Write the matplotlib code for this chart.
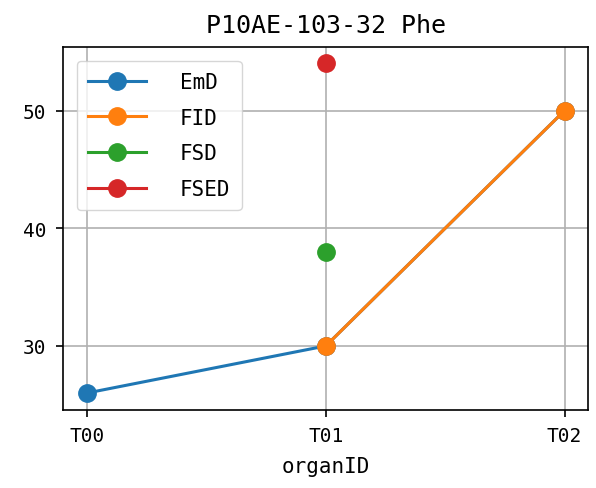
import matplotlib
matplotlib.use("Agg")
import matplotlib.pyplot as plt

categories = ["T00", "T01", "T02"]
emd_x = ["T00", "T01", "T02"]
emd_y = [26, 30, 50]
fid_x = ["T01", "T02"]
fid_y = [30, 50]
fsd_x = ["T01"]
fsd_y = [38]
fsed_x = ["T01"]
fsed_y = [54]

plt.rcParams['font.family'] = ['DejaVu Sans Mono', 'Noto Sans CJK SC']

fig, ax = plt.subplots(figsize=(5.96, 4.89), dpi=100)
idx = {c: i for i, c in enumerate(categories)}
series = [("EmD", emd_x, emd_y, "#1f77b4"),
          ("FID", fid_x, fid_y, "#ff7f0e"),
          ("FSD", fsd_x, fsd_y, "#2ca02c"),
          ("FSED", fsed_x, fsed_y, "#d62728")]
for name, xs, ys, col in series:
    ax.plot([idx[x] for x in xs], ys, marker='o', markersize=12.5, linewidth=2.2,
            color=col, label=name)
ax.set_xticks(range(len(categories)))
ax.set_xticklabels(categories)
ax.set_yticks([30, 40, 50])
ax.tick_params(labelsize=14, length=5, width=1.2, pad=7)
ax.grid(True, linewidth=1.2)
ax.set_xlabel("organID", fontsize=15, labelpad=8)
ax.set_title("P10AE-103-32 Phe", fontsize=18, pad=11)
ax.legend(loc='upper left', fontsize=15, handletextpad=1.6, handlelength=2.8,
          borderaxespad=0.65, labelspacing=0.75, borderpad=0.55)
for s in ax.spines.values():
    s.set_linewidth(1.2)
fig.subplots_adjust(left=0.1057, right=0.9874, top=0.9018, bottom=0.1605)
fig.savefig("out.png", dpi=100)
